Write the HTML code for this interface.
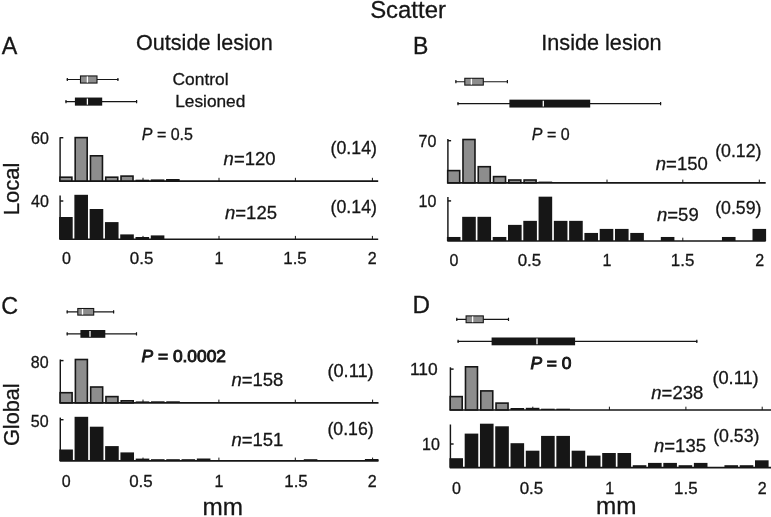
<!DOCTYPE html>
<html lang="en">
<head>
<meta charset="utf-8">
<title>Scatter</title>
<style>
html,body{margin:0;padding:0;background:#fff;}
body{width:771px;height:517px;overflow:hidden;}
svg{display:block;font-family:"Liberation Sans", sans-serif;fill:#161616;filter:grayscale(1);}
text{stroke:#161616;stroke-width:.3px;}
text.b{stroke-width:.9px;}
</style>
</head>
<body>
<svg width="771" height="517" viewBox="0 0 771 517">
<rect width="771" height="517" fill="#ffffff"/>
<text x="370.2" y="18.3" font-size="23.9">Scatter</text>
<text x="136" y="50" font-size="21.6">Outside lesion</text>
<text x="541.3" y="49.8" font-size="21.65">Inside lesion</text>
<text x="1.7" y="54.2" font-size="23.3">A</text>
<text x="413.1" y="53.6" font-size="23.0">B</text>
<text x="1.3" y="313.6" font-size="23.3">C</text>
<text x="412.5" y="313.1" font-size="23.0" textLength="17.5" lengthAdjust="spacingAndGlyphs">D</text>
<text x="172.5" y="85.3" font-size="17.4">Control</text>
<text x="175.2" y="107.0" font-size="17.3">Lesioned</text>
<text x="19.3" y="215.3" font-size="22" transform="rotate(-90 19.3 215.3)">Local</text>
<text x="18.8" y="446" font-size="21.7" transform="rotate(-90 18.8 446)">Global</text>
<path d="M66.8 79.5H118.4" stroke="#161616" stroke-width="1.15" fill="none"/>
<path d="M67.3 77.9v3.2M117.9 77.9v3.2" stroke="#161616" stroke-width="1.2" fill="none"/>
<rect x="80.5" y="75.95" width="16.5" height="7.1" fill="#8d8d8d" stroke="#161616" stroke-width="1.1"/>
<path d="M87.4 76.45V82.55" stroke="#fff" stroke-width="1.3" fill="none"/>
<path d="M65.5 101.6H137.1" stroke="#161616" stroke-width="1.15" fill="none"/>
<path d="M66.0 100.0v3.2M136.6 100.0v3.2" stroke="#161616" stroke-width="1.2" fill="none"/>
<rect x="74.9" y="97.55" width="27.299999999999997" height="8.1" fill="#161616"/>
<path d="M87.4 98.55V104.64999999999999" stroke="#fff" stroke-width="1.3" fill="none"/>
<path d="M60.1 137.2V181.1" stroke="#161616" stroke-width="1.45" fill="none"/>
<path d="M59.5 181.1H378.2" stroke="#161616" stroke-width="1.65" fill="none"/>
<path d="M60.1 137.7h3.2" stroke="#161616" stroke-width="1.45" fill="none"/>
<path d="M143 181.1v-3.3" stroke="#161616" stroke-width="1" fill="none"/>
<path d="M219 181.1v-3.3" stroke="#161616" stroke-width="1" fill="none"/>
<path d="M295.4 181.1v-3.3" stroke="#161616" stroke-width="1" fill="none"/>
<path d="M372.4 181.1v-3.3" stroke="#161616" stroke-width="1" fill="none"/>
<rect x="59.90" y="177.20" width="12.00" height="3.80" fill="#8d8d8d" stroke="#161616" stroke-width="1.6"/>
<rect x="75.18" y="137.60" width="12.00" height="43.40" fill="#8d8d8d" stroke="#161616" stroke-width="1.6"/>
<rect x="90.46" y="155.80" width="12.00" height="25.20" fill="#8d8d8d" stroke="#161616" stroke-width="1.6"/>
<rect x="105.74" y="177.20" width="12.00" height="3.80" fill="#8d8d8d" stroke="#161616" stroke-width="1.6"/>
<rect x="121.02" y="176.10" width="12.00" height="4.90" fill="#8d8d8d" stroke="#161616" stroke-width="1.6"/>
<rect x="135.50" y="179.70" width="13.60" height="1.40" fill="#161616"/>
<rect x="150.78" y="179.40" width="13.60" height="1.70" fill="#161616"/>
<rect x="166.06" y="179.00" width="13.60" height="2.10" fill="#161616"/>
<path d="M60.1 195.5V239.2" stroke="#161616" stroke-width="1.45" fill="none"/>
<path d="M59.5 239.2H378.2" stroke="#161616" stroke-width="1.65" fill="none"/>
<path d="M60.1 201h3.2" stroke="#161616" stroke-width="1.45" fill="none"/>
<path d="M143 239.2v-3.3" stroke="#161616" stroke-width="1" fill="none"/>
<path d="M219 239.2v-3.3" stroke="#161616" stroke-width="1" fill="none"/>
<path d="M295.4 239.2v-3.3" stroke="#161616" stroke-width="1" fill="none"/>
<path d="M372.4 239.2v-3.3" stroke="#161616" stroke-width="1" fill="none"/>
<rect x="59.10" y="217.00" width="13.60" height="22.20" fill="#161616"/>
<rect x="74.38" y="194.80" width="13.60" height="44.40" fill="#161616"/>
<rect x="89.66" y="209.00" width="13.60" height="30.20" fill="#161616"/>
<rect x="104.94" y="222.10" width="13.60" height="17.10" fill="#161616"/>
<rect x="120.22" y="234.40" width="13.60" height="4.80" fill="#161616"/>
<rect x="135.50" y="237.00" width="13.60" height="2.20" fill="#161616"/>
<rect x="150.78" y="235.40" width="13.60" height="3.80" fill="#161616"/>
<text x="48.9" y="143.9" font-size="16" text-anchor="end">60</text>
<text x="48.9" y="207.1" font-size="16" text-anchor="end">40</text>
<text x="141.8" y="139.9" font-size="16"><tspan font-style="italic">P</tspan> = 0.5</text>
<text x="223.6" y="164.7" font-size="18.5"><tspan font-style="italic">n</tspan>=120</text>
<text x="225" y="218.8" font-size="18.5"><tspan font-style="italic">n</tspan>=125</text>
<text x="330.6" y="154" font-size="18.4" textLength="46.3" lengthAdjust="spacingAndGlyphs">(0.14)</text>
<text x="330.6" y="213.4" font-size="18.4" textLength="46.3" lengthAdjust="spacingAndGlyphs">(0.14)</text>
<text x="66.4" y="264.3" font-size="16" text-anchor="middle">0</text>
<text x="141.6" y="264.3" font-size="16" text-anchor="middle" textLength="23.5" lengthAdjust="spacingAndGlyphs">0.5</text>
<text x="219" y="264.3" font-size="16" text-anchor="middle">1</text>
<text x="295" y="264.3" font-size="16" text-anchor="middle" textLength="23.5" lengthAdjust="spacingAndGlyphs">1.5</text>
<text x="372.3" y="264.3" font-size="16" text-anchor="middle">2</text>
<path d="M455.4 81.7H507.9" stroke="#161616" stroke-width="1.15" fill="none"/>
<path d="M455.9 80.10000000000001v3.2M507.4 80.10000000000001v3.2" stroke="#161616" stroke-width="1.2" fill="none"/>
<rect x="464.8" y="78.3" width="18.5" height="6.8" fill="#8d8d8d" stroke="#161616" stroke-width="1.1"/>
<path d="M471.4 78.8V84.60000000000001" stroke="#fff" stroke-width="1.3" fill="none"/>
<path d="M457.5 103.6H661.1" stroke="#161616" stroke-width="1.15" fill="none"/>
<path d="M458.0 102.0v3.2M660.6 102.0v3.2" stroke="#161616" stroke-width="1.2" fill="none"/>
<rect x="509.4" y="99.64999999999999" width="80.80000000000007" height="7.9" fill="#161616"/>
<path d="M543.3 100.64999999999999V106.55" stroke="#fff" stroke-width="1.3" fill="none"/>
<path d="M447.9 138.9V182.9" stroke="#161616" stroke-width="1.45" fill="none"/>
<path d="M447.29999999999995 182.9H765.7" stroke="#161616" stroke-width="1.65" fill="none"/>
<path d="M447.9 140.7h3.2" stroke="#161616" stroke-width="1.45" fill="none"/>
<path d="M607 182.9v-3.3" stroke="#161616" stroke-width="1" fill="none"/>
<path d="M682.8 182.9v-3.3" stroke="#161616" stroke-width="1" fill="none"/>
<path d="M759.3 182.9v-3.3" stroke="#161616" stroke-width="1" fill="none"/>
<rect x="447.70" y="170.60" width="12.00" height="12.20" fill="#8d8d8d" stroke="#161616" stroke-width="1.6"/>
<rect x="462.98" y="139.50" width="12.00" height="43.30" fill="#8d8d8d" stroke="#161616" stroke-width="1.6"/>
<rect x="478.26" y="166.70" width="12.00" height="16.10" fill="#8d8d8d" stroke="#161616" stroke-width="1.6"/>
<rect x="493.54" y="176.60" width="12.00" height="6.20" fill="#8d8d8d" stroke="#161616" stroke-width="1.6"/>
<rect x="508.82" y="180.00" width="12.00" height="2.80" fill="#8d8d8d" stroke="#161616" stroke-width="1.6"/>
<rect x="524.10" y="180.00" width="12.00" height="2.80" fill="#8d8d8d" stroke="#161616" stroke-width="1.6"/>
<rect x="538.58" y="181.60" width="13.60" height="1.30" fill="#161616"/>
<path d="M447.9 197V241.0" stroke="#161616" stroke-width="1.45" fill="none"/>
<path d="M447.29999999999995 241.0H765.7" stroke="#161616" stroke-width="1.65" fill="none"/>
<path d="M447.9 200.9h3.2" stroke="#161616" stroke-width="1.45" fill="none"/>
<path d="M607 241.0v-3.3" stroke="#161616" stroke-width="1" fill="none"/>
<path d="M682.8 241.0v-3.3" stroke="#161616" stroke-width="1" fill="none"/>
<path d="M759.3 241.0v-3.3" stroke="#161616" stroke-width="1" fill="none"/>
<rect x="446.90" y="236.97" width="13.60" height="4.03" fill="#161616"/>
<rect x="462.18" y="216.82" width="13.60" height="24.18" fill="#161616"/>
<rect x="477.46" y="216.82" width="13.60" height="24.18" fill="#161616"/>
<rect x="492.74" y="236.97" width="13.60" height="4.03" fill="#161616"/>
<rect x="508.02" y="224.88" width="13.60" height="16.12" fill="#161616"/>
<rect x="523.30" y="220.85" width="13.60" height="20.15" fill="#161616"/>
<rect x="538.58" y="196.67" width="13.60" height="44.33" fill="#161616"/>
<rect x="553.86" y="220.85" width="13.60" height="20.15" fill="#161616"/>
<rect x="569.14" y="220.85" width="13.60" height="20.15" fill="#161616"/>
<rect x="584.42" y="232.94" width="13.60" height="8.06" fill="#161616"/>
<rect x="599.70" y="228.91" width="13.60" height="12.09" fill="#161616"/>
<rect x="614.98" y="228.91" width="13.60" height="12.09" fill="#161616"/>
<rect x="630.26" y="232.94" width="13.60" height="8.06" fill="#161616"/>
<rect x="660.82" y="236.97" width="13.60" height="4.03" fill="#161616"/>
<rect x="721.94" y="236.97" width="13.60" height="4.03" fill="#161616"/>
<rect x="752.50" y="228.91" width="13.60" height="12.09" fill="#161616"/>
<text x="436.4" y="147.2" font-size="16" text-anchor="end">70</text>
<text x="436.4" y="206.9" font-size="16" text-anchor="end">10</text>
<text x="531.8" y="139.5" font-size="16"><tspan font-style="italic">P</tspan> = 0</text>
<text x="655.8" y="170" font-size="18.5"><tspan font-style="italic">n</tspan>=150</text>
<text x="657" y="221.4" font-size="18.5"><tspan font-style="italic">n</tspan>=59</text>
<text x="715.2" y="157.2" font-size="18.4" textLength="46.3" lengthAdjust="spacingAndGlyphs">(0.12)</text>
<text x="715.2" y="214" font-size="18.4" textLength="46.3" lengthAdjust="spacingAndGlyphs">(0.59)</text>
<text x="454" y="266.3" font-size="16" text-anchor="middle">0</text>
<text x="529.4" y="266.3" font-size="16" text-anchor="middle" textLength="23.5" lengthAdjust="spacingAndGlyphs">0.5</text>
<text x="607" y="266.3" font-size="16" text-anchor="middle">1</text>
<text x="682.6" y="266.3" font-size="16" text-anchor="middle" textLength="23.5" lengthAdjust="spacingAndGlyphs">1.5</text>
<text x="759.6" y="266.3" font-size="16" text-anchor="middle">2</text>
<path d="M66.7 311.8H114.1" stroke="#161616" stroke-width="1.15" fill="none"/>
<path d="M67.2 310.2v3.2M113.6 310.2v3.2" stroke="#161616" stroke-width="1.2" fill="none"/>
<rect x="77.8" y="308.5" width="15.900000000000006" height="6.6" fill="#8d8d8d" stroke="#161616" stroke-width="1.1"/>
<path d="M82.5 309.0V314.6" stroke="#fff" stroke-width="1.3" fill="none"/>
<path d="M66.7 333.9H137.0" stroke="#161616" stroke-width="1.15" fill="none"/>
<path d="M67.2 332.29999999999995v3.2M136.5 332.29999999999995v3.2" stroke="#161616" stroke-width="1.2" fill="none"/>
<rect x="80.4" y="330.0" width="24.89999999999999" height="7.8" fill="#161616"/>
<path d="M90.0 331.0V336.79999999999995" stroke="#fff" stroke-width="1.3" fill="none"/>
<path d="M60.3 359.5V402.9" stroke="#161616" stroke-width="1.45" fill="none"/>
<path d="M59.699999999999996 402.9H378.5" stroke="#161616" stroke-width="1.65" fill="none"/>
<path d="M60.3 360.6h3.2" stroke="#161616" stroke-width="1.45" fill="none"/>
<path d="M143 402.9v-3.3" stroke="#161616" stroke-width="1" fill="none"/>
<path d="M218.9 402.9v-3.3" stroke="#161616" stroke-width="1" fill="none"/>
<path d="M295.3 402.9v-3.3" stroke="#161616" stroke-width="1" fill="none"/>
<path d="M372.6 402.9v-3.3" stroke="#161616" stroke-width="1" fill="none"/>
<rect x="60.10" y="392.70" width="12.00" height="10.10" fill="#8d8d8d" stroke="#161616" stroke-width="1.6"/>
<rect x="75.38" y="359.50" width="12.00" height="43.30" fill="#8d8d8d" stroke="#161616" stroke-width="1.6"/>
<rect x="90.66" y="387.00" width="12.00" height="15.80" fill="#8d8d8d" stroke="#161616" stroke-width="1.6"/>
<rect x="105.94" y="396.60" width="12.00" height="6.20" fill="#8d8d8d" stroke="#161616" stroke-width="1.6"/>
<rect x="121.22" y="400.80" width="12.00" height="2.00" fill="#8d8d8d" stroke="#161616" stroke-width="1.6"/>
<rect x="135.70" y="401.40" width="13.60" height="1.50" fill="#161616"/>
<rect x="150.98" y="401.30" width="13.60" height="1.60" fill="#161616"/>
<rect x="166.26" y="401.30" width="13.60" height="1.60" fill="#161616"/>
<path d="M60.3 417.6V460.9" stroke="#161616" stroke-width="1.45" fill="none"/>
<path d="M59.699999999999996 460.9H378.5" stroke="#161616" stroke-width="1.65" fill="none"/>
<path d="M60.3 419.7h3.2" stroke="#161616" stroke-width="1.45" fill="none"/>
<path d="M143 460.9v-3.3" stroke="#161616" stroke-width="1" fill="none"/>
<path d="M218.9 460.9v-3.3" stroke="#161616" stroke-width="1" fill="none"/>
<path d="M295.3 460.9v-3.3" stroke="#161616" stroke-width="1" fill="none"/>
<path d="M372.6 460.9v-3.3" stroke="#161616" stroke-width="1" fill="none"/>
<rect x="59.30" y="449.50" width="13.60" height="11.40" fill="#161616"/>
<rect x="74.58" y="416.80" width="13.60" height="44.10" fill="#161616"/>
<rect x="89.86" y="426.70" width="13.60" height="34.20" fill="#161616"/>
<rect x="105.14" y="446.10" width="13.60" height="14.80" fill="#161616"/>
<rect x="120.42" y="452.40" width="13.60" height="8.50" fill="#161616"/>
<rect x="135.70" y="458.60" width="13.60" height="2.30" fill="#161616"/>
<rect x="150.98" y="459.20" width="13.60" height="1.70" fill="#161616"/>
<rect x="166.26" y="459.20" width="13.60" height="1.70" fill="#161616"/>
<rect x="181.54" y="459.20" width="13.60" height="1.70" fill="#161616"/>
<rect x="196.82" y="458.50" width="13.60" height="2.40" fill="#161616"/>
<rect x="303.78" y="459.20" width="13.60" height="1.70" fill="#161616"/>
<rect x="364.90" y="459.00" width="13.60" height="1.90" fill="#161616"/>
<text x="48.6" y="367.8" font-size="16" text-anchor="end">80</text>
<text x="48.6" y="426.7" font-size="16" text-anchor="end">50</text>
<text x="141.6" y="362.1" font-size="16" textLength="84.3" lengthAdjust="spacingAndGlyphs" class="b"><tspan font-style="italic">P</tspan> = 0.0002</text>
<text x="231.4" y="386.2" font-size="18.5"><tspan font-style="italic">n</tspan>=158</text>
<text x="231.4" y="446.1" font-size="18.5"><tspan font-style="italic">n</tspan>=151</text>
<text x="327.4" y="377.3" font-size="18.4" textLength="46.3" lengthAdjust="spacingAndGlyphs">(0.11)</text>
<text x="327.4" y="434.9" font-size="18.4" textLength="46.3" lengthAdjust="spacingAndGlyphs">(0.16)</text>
<text x="66.2" y="486.7" font-size="16" text-anchor="middle">0</text>
<text x="140.9" y="486.7" font-size="16" text-anchor="middle" textLength="23.5" lengthAdjust="spacingAndGlyphs">0.5</text>
<text x="219" y="486.7" font-size="16" text-anchor="middle">1</text>
<text x="296" y="486.7" font-size="16" text-anchor="middle" textLength="23.5" lengthAdjust="spacingAndGlyphs">1.5</text>
<text x="372.2" y="486.7" font-size="16" text-anchor="middle">2</text>
<text x="202.6" y="514.7" font-size="24.3">mm</text>
<path d="M456.3 319.3H509.0" stroke="#161616" stroke-width="1.15" fill="none"/>
<path d="M456.8 317.7v3.2M508.5 317.7v3.2" stroke="#161616" stroke-width="1.2" fill="none"/>
<rect x="466.1" y="315.90000000000003" width="17.19999999999999" height="6.8" fill="#8d8d8d" stroke="#161616" stroke-width="1.1"/>
<path d="M472.6 316.40000000000003V322.2" stroke="#fff" stroke-width="1.3" fill="none"/>
<path d="M457.6 341.4H697.3" stroke="#161616" stroke-width="1.15" fill="none"/>
<path d="M458.1 339.79999999999995v3.2M696.8 339.79999999999995v3.2" stroke="#161616" stroke-width="1.2" fill="none"/>
<rect x="491.6" y="337.5" width="83.5" height="7.8" fill="#161616"/>
<path d="M537.0 338.5V344.29999999999995" stroke="#fff" stroke-width="1.3" fill="none"/>
<path d="M450.4 367.3V410.0" stroke="#161616" stroke-width="1.45" fill="none"/>
<path d="M449.79999999999995 410.0H771" stroke="#161616" stroke-width="1.65" fill="none"/>
<path d="M450.4 369.1h3.2" stroke="#161616" stroke-width="1.45" fill="none"/>
<path d="M532.8 410.0v-3.3" stroke="#161616" stroke-width="1" fill="none"/>
<path d="M609.4 410.0v-3.3" stroke="#161616" stroke-width="1" fill="none"/>
<path d="M685.9 410.0v-3.3" stroke="#161616" stroke-width="1" fill="none"/>
<path d="M762.2 410.0v-3.3" stroke="#161616" stroke-width="1" fill="none"/>
<rect x="450.20" y="396.60" width="12.00" height="13.30" fill="#8d8d8d" stroke="#161616" stroke-width="1.6"/>
<rect x="465.48" y="366.80" width="12.00" height="43.10" fill="#8d8d8d" stroke="#161616" stroke-width="1.6"/>
<rect x="480.76" y="390.90" width="12.00" height="19.00" fill="#8d8d8d" stroke="#161616" stroke-width="1.6"/>
<rect x="496.04" y="403.10" width="12.00" height="6.80" fill="#8d8d8d" stroke="#161616" stroke-width="1.6"/>
<rect x="510.52" y="408.00" width="13.60" height="2.00" fill="#161616"/>
<rect x="525.80" y="407.80" width="13.60" height="2.20" fill="#161616"/>
<rect x="541.08" y="408.70" width="13.60" height="1.30" fill="#161616"/>
<rect x="556.36" y="408.70" width="13.60" height="1.30" fill="#161616"/>
<path d="M450.4 424.5V467.6" stroke="#161616" stroke-width="1.45" fill="none"/>
<path d="M449.79999999999995 467.6H771" stroke="#161616" stroke-width="1.65" fill="none"/>
<path d="M450.4 444.0h3.2" stroke="#161616" stroke-width="1.45" fill="none"/>
<rect x="449.40" y="458.20" width="13.60" height="9.40" fill="#161616"/>
<rect x="464.68" y="433.60" width="13.60" height="34.00" fill="#161616"/>
<rect x="479.96" y="423.70" width="13.60" height="43.90" fill="#161616"/>
<rect x="495.24" y="426.30" width="13.60" height="41.30" fill="#161616"/>
<rect x="510.52" y="443.20" width="13.60" height="24.40" fill="#161616"/>
<rect x="525.80" y="450.70" width="13.60" height="16.90" fill="#161616"/>
<rect x="541.08" y="435.90" width="13.60" height="31.70" fill="#161616"/>
<rect x="556.36" y="435.90" width="13.60" height="31.70" fill="#161616"/>
<rect x="571.64" y="450.70" width="13.60" height="16.90" fill="#161616"/>
<rect x="586.92" y="455.60" width="13.60" height="12.00" fill="#161616"/>
<rect x="602.20" y="453.00" width="13.60" height="14.60" fill="#161616"/>
<rect x="617.48" y="453.00" width="13.60" height="14.60" fill="#161616"/>
<rect x="632.76" y="465.20" width="13.60" height="2.40" fill="#161616"/>
<rect x="648.04" y="462.90" width="13.60" height="4.70" fill="#161616"/>
<rect x="663.32" y="462.90" width="13.60" height="4.70" fill="#161616"/>
<rect x="678.60" y="465.20" width="13.60" height="2.40" fill="#161616"/>
<rect x="693.88" y="462.90" width="13.60" height="4.70" fill="#161616"/>
<rect x="724.44" y="465.20" width="13.60" height="2.40" fill="#161616"/>
<rect x="739.72" y="465.20" width="13.60" height="2.40" fill="#161616"/>
<rect x="755.00" y="460.30" width="13.60" height="7.30" fill="#161616"/>
<text x="409.9" y="374.8" font-size="16" textLength="27.7" lengthAdjust="spacingAndGlyphs">110</text>
<text x="439.8" y="449.7" font-size="16" text-anchor="end">10</text>
<text x="530.4" y="369.1" font-size="16" textLength="41.0" lengthAdjust="spacingAndGlyphs" class="b"><tspan font-style="italic">P</tspan> = 0</text>
<text x="651.3" y="399" font-size="18.5"><tspan font-style="italic">n</tspan>=238</text>
<text x="654" y="451.5" font-size="18.5"><tspan font-style="italic">n</tspan>=135</text>
<text x="712.4" y="384.2" font-size="18.4" textLength="46.3" lengthAdjust="spacingAndGlyphs">(0.11)</text>
<text x="713.2" y="441.9" font-size="18.4" textLength="46.3" lengthAdjust="spacingAndGlyphs">(0.53)</text>
<text x="456.5" y="493.5" font-size="16" text-anchor="middle">0</text>
<text x="531.4" y="493.5" font-size="16" text-anchor="middle" textLength="23.5" lengthAdjust="spacingAndGlyphs">0.5</text>
<text x="609.6" y="493.5" font-size="16" text-anchor="middle">1</text>
<text x="685.8" y="493.5" font-size="16" text-anchor="middle" textLength="23.5" lengthAdjust="spacingAndGlyphs">1.5</text>
<text x="762.2" y="493.5" font-size="16" text-anchor="middle">2</text>
<text x="596.0" y="513.6" font-size="24.3">mm</text>
</svg>
</body>
</html>
